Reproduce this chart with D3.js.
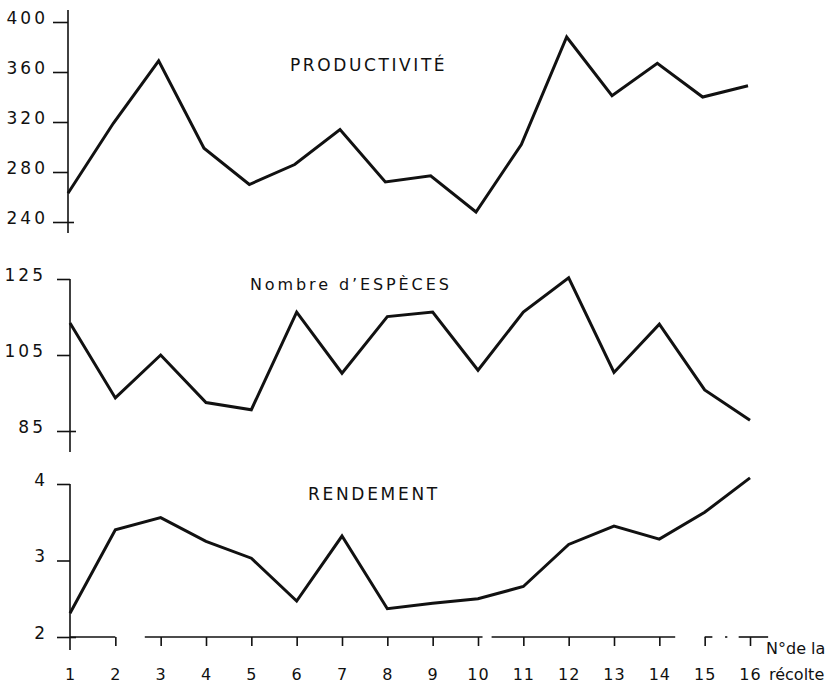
<!DOCTYPE html>
<html>
<head>
<meta charset="utf-8">
<script src="https://cdn.jsdelivr.net/npm/d3@7"></script>
<style>
  html, body { margin: 0; padding: 0; background: #fff; }
  svg { display: block; font-family: "DejaVu Sans", "Liberation Sans", sans-serif; }
</style>
</head>
<body>
<svg id="chart" width="840" height="683"></svg>
<script>
// ---- data ----
const harvests = d3.range(1, 17); // N° de la récolte 1..16
const productivite = [263, 319, 369, 299, 270, 286, 314, 272, 277, 248, 302, 388, 341, 367, 340, 349];
const especes = [113.4, 93.7, 105.0, 92.5, 90.6, 116.3, 100.2, 115.1, 116.3, 101.0, 116.3, 125.3, 100.4, 113.1, 95.8, 87.8];
const rendement = [2.31, 3.40, 3.56, 3.25, 3.03, 2.47, 3.32, 2.37, 2.44, 2.50, 2.66, 3.21, 3.45, 3.28, 3.63, 4.08];
const prodTicks = [240, 280, 320, 360, 400];
const espTicks = [85, 105, 125];
const rendTicks = [2, 3, 4];
const titles = ["PRODUCTIVITÉ", "Nombre d’ESPÈCES", "RENDEMENT"];
const xTitle = ["N°de la", "récolte"];

// ---- drawing ----
const svg = d3.select("#chart");
const ink = "#111";

const xTop = d3.scaleLinear().domain([1, 16]).range([68, 748]);
const x = d3.scaleLinear().domain([1, 16]).range([70, 750]);

const panels = [
  { values: productivite, ticks: prodTicks, xs: xTop,
    y: d3.scaleLinear().domain([240, 400]).range([222, 22]),
    axisTop: 10, axisBottom: 233, tickLen: 15, pad: 5,
    title: titles[0], titleX: 290, titleY: 65, fs: 17, ls: 2.6 },
  { values: especes, ticks: espTicks, xs: x,
    y: d3.scaleLinear().domain([85, 125]).range([431, 279]),
    axisTop: 279, axisBottom: 452, tickLen: 13, pad: 11,
    title: titles[1], titleX: 250, titleY: 284, fs: 16, ls: 2.9 },
  { values: rendement, ticks: rendTicks, xs: x,
    y: d3.scaleLinear().domain([2, 4]).range([637, 484]),
    axisTop: 484, axisBottom: 650, tickLen: 13, pad: 9,
    title: titles[2], titleX: 308, titleY: 494, fs: 17, ls: 2.7 }
];

panels.forEach(p => {
  const x0 = p.xs(1);
  const g = svg.append("g");
  // axis line
  g.append("line")
    .attr("x1", x0).attr("x2", x0)
    .attr("y1", p.axisTop).attr("y2", p.axisBottom)
    .attr("stroke", ink).attr("stroke-width", 1.6);
  // ticks via d3 axis
  const ax = d3.axisLeft(p.y).tickValues(p.ticks).tickSize(p.tickLen)
    .tickPadding(p.pad).tickFormat(d3.format("d"));
  const ag = g.append("g").attr("transform", `translate(${x0},0)`).call(ax);
  ag.select(".domain").remove();
  ag.selectAll(".tick line").attr("stroke", ink).attr("stroke-width", 1.6)
    .attr("x2", d => d === p.ticks[0] ? 6 : 0)
    .attr("x1", -p.tickLen);
  ag.selectAll(".tick text")
    .attr("fill", ink).attr("font-size", 17).attr("letter-spacing", 3)
    .attr("y", -4).attr("font-family", "DejaVu Sans, sans-serif");
  // data line
  const line = d3.line().x((d, i) => p.xs(harvests[i])).y(d => p.y(d));
  g.append("path").datum(p.values)
    .attr("d", line).attr("fill", "none")
    .attr("stroke", ink).attr("stroke-width", 3)
    .attr("stroke-linejoin", "miter");
  // title
  g.append("text").text(p.title)
    .attr("x", p.titleX).attr("y", p.titleY)
    .attr("dominant-baseline", "central")
    .attr("font-size", p.fs).attr("letter-spacing", p.ls).attr("fill", ink);
});

// bottom x axis (broken baseline)
const yBase = panels[2].y(2);
const baselineSegments = [[1, 2], [2.65, 10.1], [10.3, 14.35], [15, 15.17], [15.45, 15.5], [15.75, 16.4]];
svg.append("g").selectAll("line").data(baselineSegments).join("line")
  .attr("x1", d => x(d[0])).attr("x2", d => x(d[1]))
  .attr("y1", yBase).attr("y2", yBase)
  .attr("stroke", ink).attr("stroke-width", 1.6);

const xAxis = d3.axisBottom(x).tickValues(harvests).tickSize(9).tickFormat(d3.format("d"));
const xg = svg.append("g").attr("transform", `translate(0,${yBase})`).call(xAxis);
xg.select(".domain").remove();
xg.selectAll(".tick line").attr("stroke", ink).attr("stroke-width", 1.6)
  .attr("opacity", d => d === 1 ? 0 : 1);
xg.selectAll(".tick text").attr("fill", ink).attr("font-size", 16)
  .attr("font-family", "DejaVu Sans, sans-serif")
  .attr("y", 37).attr("dy", 0).attr("dominant-baseline", "central")
  .attr("letter-spacing", 1);

svg.append("text").text(xTitle[0]).attr("x", 766).attr("y", 648)
  .attr("dominant-baseline", "central").attr("font-size", 16).attr("fill", ink);
svg.append("text").text(xTitle[1]).attr("x", 769).attr("y", 674)
  .attr("dominant-baseline", "central").attr("font-size", 16).attr("fill", ink);
</script>
</body>
</html>
